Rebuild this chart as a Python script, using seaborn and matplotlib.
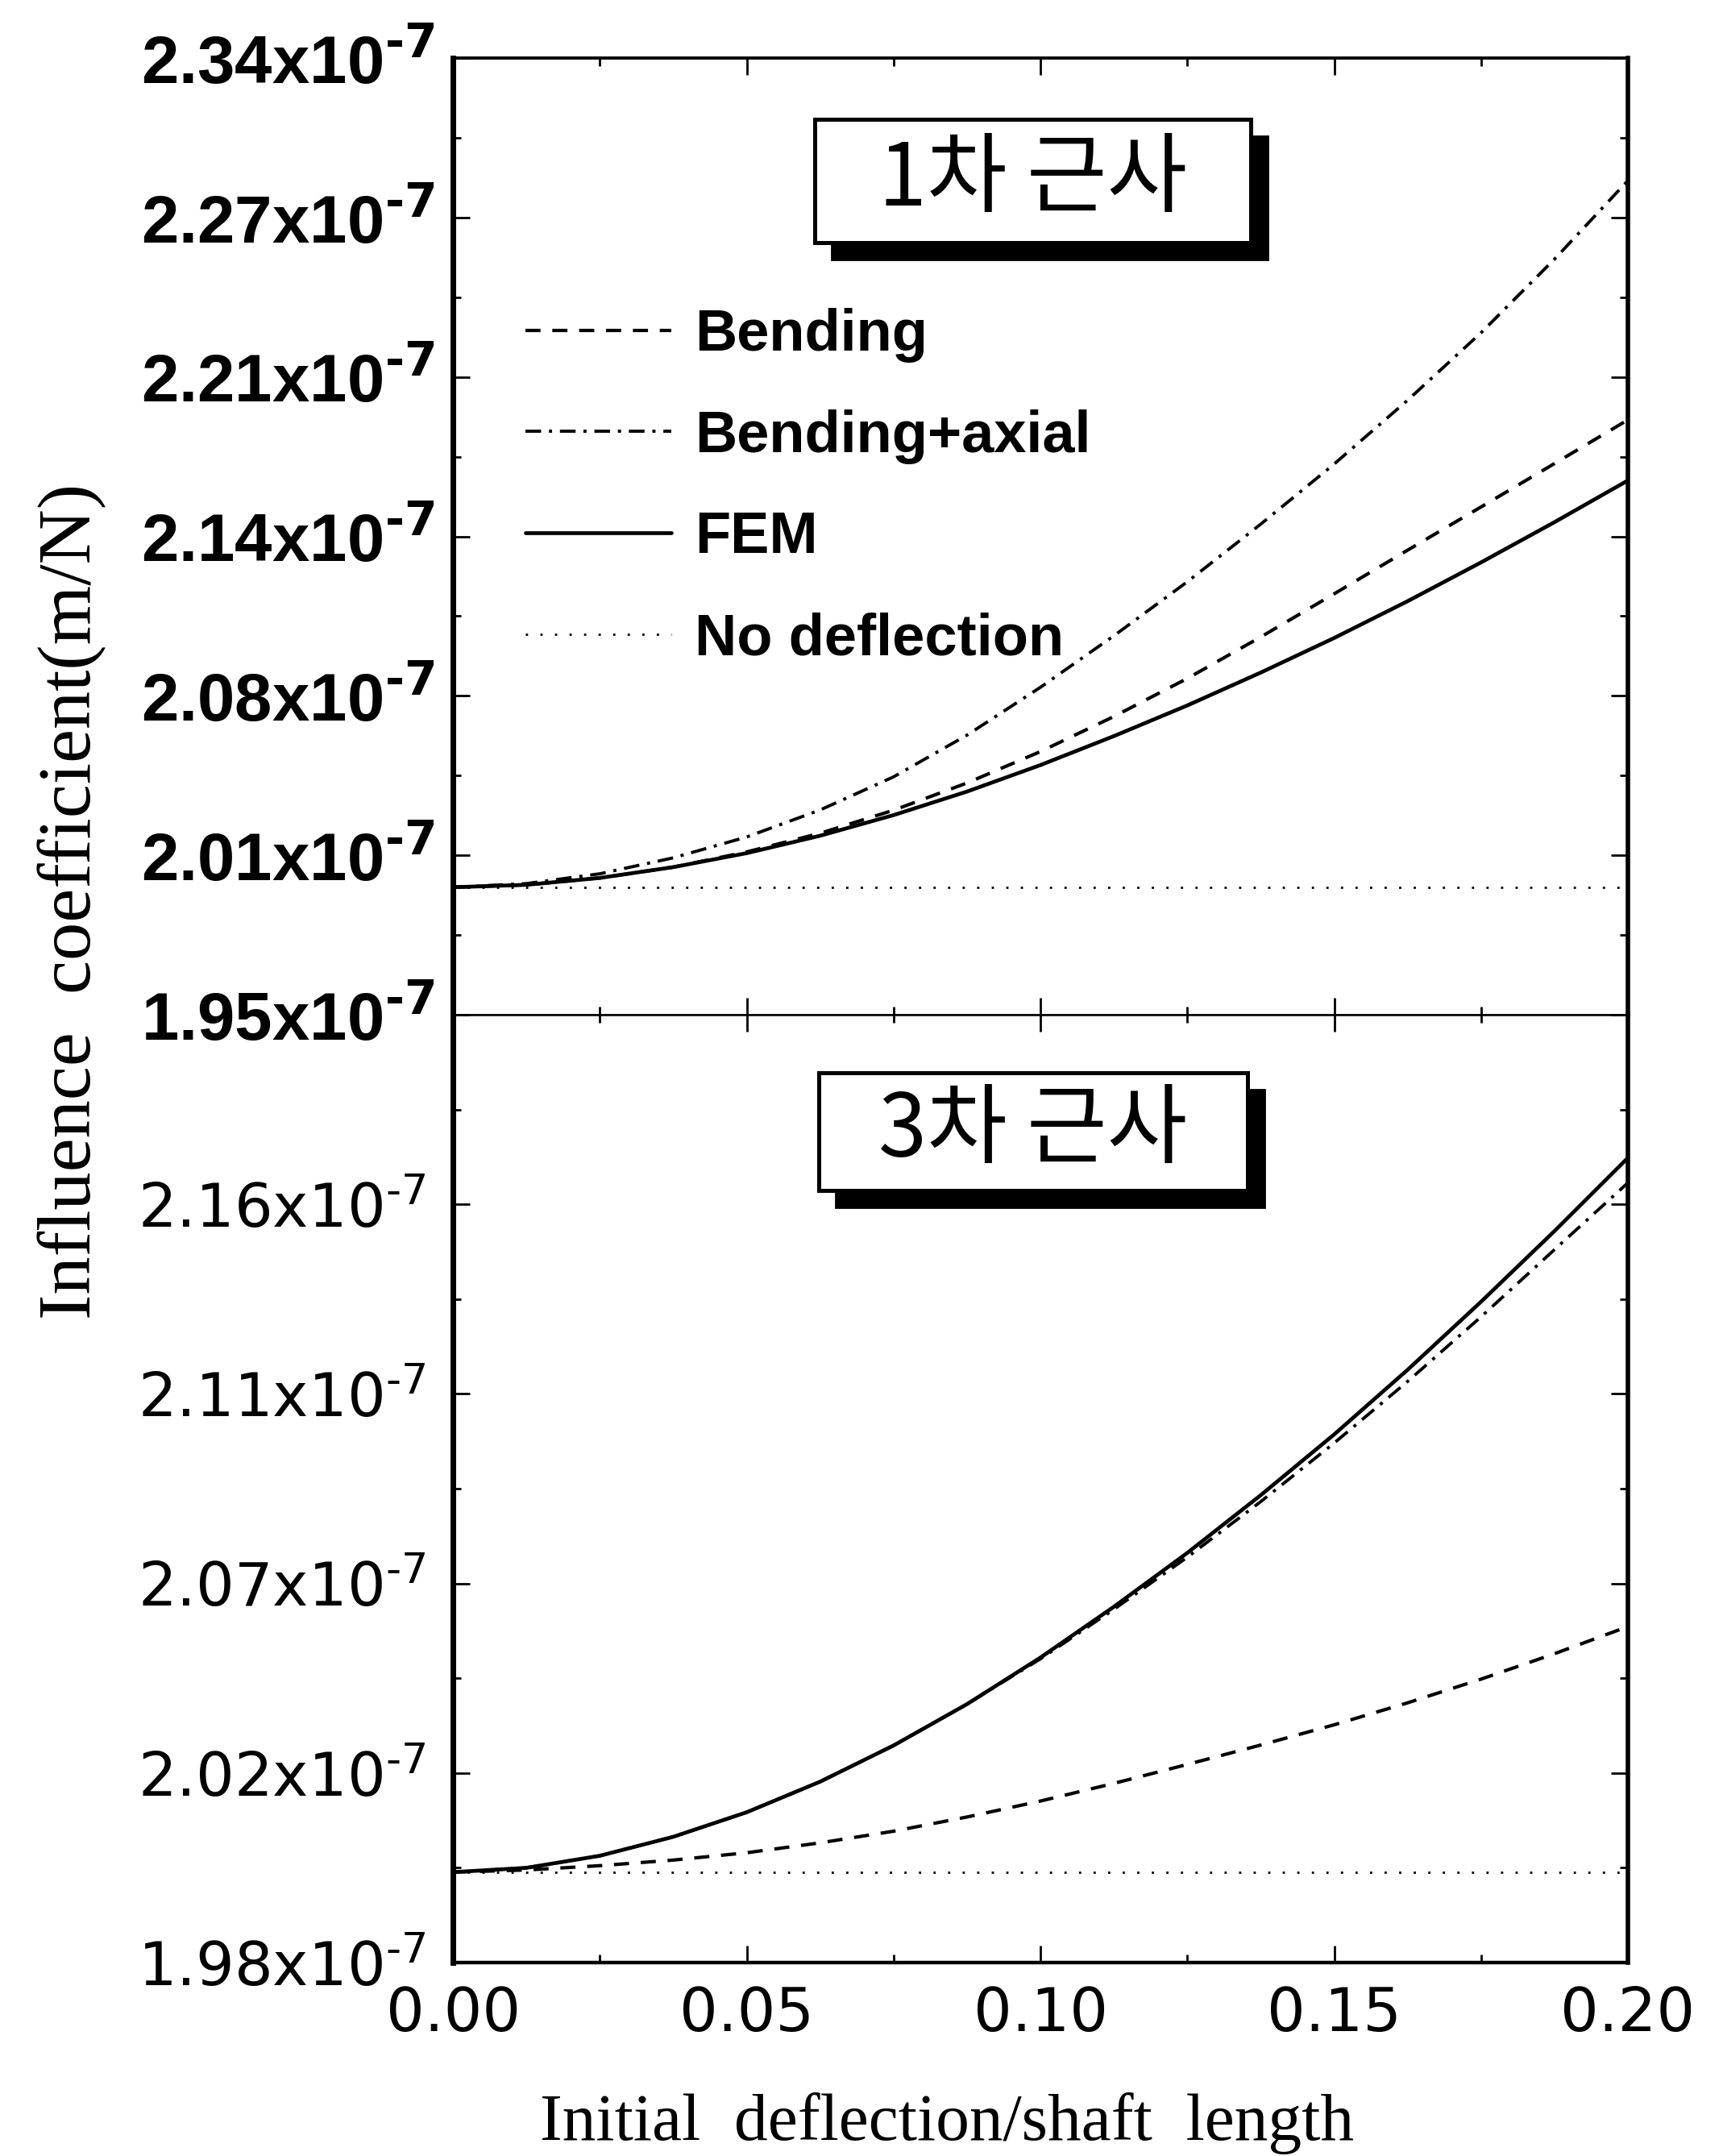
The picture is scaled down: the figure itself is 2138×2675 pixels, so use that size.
import numpy as np
import pandas as pd
import matplotlib
matplotlib.use("Agg")
import matplotlib.pyplot as plt
import matplotlib.transforms as mtransforms
from matplotlib.patches import Rectangle
import seaborn as sns

# ---------------- data (values in units of 1e-7 m/N) ----------------
ratio = [0.0, 0.0125, 0.025, 0.0375, 0.05, 0.0625, 0.075, 0.0875, 0.1,
         0.1125, 0.125, 0.1375, 0.15, 0.1625, 0.175, 0.1875, 0.2]

top_bend = [2.002, 2.003, 2.0058, 2.0102, 2.0164, 2.0240, 2.0334, 2.0445, 2.0573,
            2.0716, 2.0871, 2.1040, 2.1216, 2.1394, 2.1570, 2.1747, 2.1925]
top_bax = [2.002, 2.0035, 2.0075, 2.0140, 2.0225, 2.0335, 2.0470, 2.0640, 2.0835,
           2.1045, 2.1265, 2.1500, 2.1745, 2.2005, 2.2280, 2.2580, 2.2900]
top_fem = [2.002, 2.003, 2.0058, 2.0102, 2.0159, 2.0230, 2.0314, 2.0410, 2.0518,
           2.0636, 2.0761, 2.0895, 2.1036, 2.1186, 2.1344, 2.1508, 2.1678]
top_nodef = [2.002, 2.002, 2.002, 2.002, 2.002, 2.002, 2.002, 2.002, 2.002,
             2.002, 2.002, 2.002, 2.002, 2.002, 2.002, 2.002, 2.002]

bot_bend = [2.001, 2.0015, 2.0025, 2.0038, 2.0055, 2.0078, 2.0105, 2.0138, 2.0175,
            2.0216, 2.0260, 2.0305, 2.0352, 2.0403, 2.0458, 2.0517, 2.0580]
bot_bax = [2.001, 2.002, 2.0048, 2.0092, 2.0149, 2.0220, 2.0304, 2.0400, 2.0505,
           2.0620, 2.0741, 2.0870, 2.1006, 2.1149, 2.1299, 2.1455, 2.1610]
bot_fem = [2.001, 2.002, 2.0048, 2.0092, 2.0149, 2.0220, 2.0304, 2.0400, 2.0508,
           2.0626, 2.0751, 2.0885, 2.1026, 2.1176, 2.1334, 2.1498, 2.1668]
bot_nodef = [2.001, 2.001, 2.001, 2.001, 2.001, 2.001, 2.001, 2.001, 2.001,
             2.001, 2.001, 2.001, 2.001, 2.001, 2.001, 2.001, 2.001]

series_names = ["Bending", "Bending+axial", "FEM", "No deflection"]

top_yticks = [1.95, 2.015, 2.08, 2.145, 2.21, 2.275, 2.34]
top_yticklabels = ["1.95", "2.01", "2.08", "2.14", "2.21", "2.27", "2.34"]
bot_yticks = [1.98, 2.024, 2.068, 2.112, 2.156, 2.20]
bot_yticklabels = ["1.98", "2.02", "2.07", "2.11", "2.16", ""]
xticks = [0.0, 0.05, 0.10, 0.15, 0.20]
xticklabels = ["0.00", "0.05", "0.10", "0.15", "0.20"]

panel_titles = ["1차 근사", "3차 근사"]
xlabel = "Initial  deflection/shaft  length"
ylabel = "Influence  coefficient(m/N)"

# ---------------- style ----------------
sns.set_theme(style="ticks")
plt.rcParams["font.family"] = ["Liberation Sans", "DejaVu Sans"]
plt.rcParams["mathtext.fontset"] = "dejavusans"
plt.rcParams["axes.edgecolor"] = "black"
plt.rcParams["xtick.color"] = "black"
plt.rcParams["ytick.color"] = "black"
plt.rcParams["text.color"] = "black"

styles = {
    "Bending": dict(linestyle=(0, (4.5, 3.5)), lw=1.5),
    "Bending+axial": dict(linestyle=(0, (5, 2.5, 1, 2.5)), lw=1.4),
    "FEM": dict(linestyle="-", lw=1.7),
    "No deflection": dict(linestyle=(0, (1, 5.5)), lw=1.0),
}

fig = plt.figure(figsize=(2138 / 200, 2675 / 200), dpi=200)
ax1 = fig.add_axes([0.2629, 0.5293, 0.6819, 0.4438])
ax2 = fig.add_axes([0.2629, 0.0897, 0.6819, 0.4396])


def draw_panel(ax, data_lists, with_labels):
    for name, vals in zip(series_names, data_lists):
        df = pd.DataFrame({"ratio": ratio, "value": np.array(vals) * 1e-7})
        kw = dict(styles[name])
        if with_labels:
            kw["label"] = name
        sns.lineplot(data=df, x="ratio", y="value", ax=ax, color="black",
                     errorbar=None, **kw)
    ax.set_xlabel("")
    ax.set_ylabel("")


draw_panel(ax1, [top_bend, top_bax, top_fem, top_nodef], True)
draw_panel(ax2, [bot_bend, bot_bax, bot_fem, bot_nodef], False)

for ax in (ax1, ax2):
    ax.set_xlim(0, 0.2)
    ax.set_xticks(xticks)
    xt = np.array(xticks)
    ax.set_xticks((xt[:-1] + xt[1:]) / 2, minor=True)
    ax.tick_params(which="both", direction="in", top=True, right=True)
    ax.tick_params(which="major", length=7.5, width=1.0)
    ax.tick_params(which="minor", length=3.5, width=1.0)
    ax.grid(False)

# superscript with a short hyphen (U+2010) as in the original labels
SUP_BOLD = "$^{\\mathbf{\u20107}}$"
SUP_REG = "$^{\u20107}$"

# top panel axis
ax1.set_ylim(1.95e-7, 2.34e-7)
yt = np.array(top_yticks) * 1e-7
ax1.set_yticks(yt, labels=[f"{s}x10" + SUP_BOLD for s in top_yticklabels])
ax1.set_yticks((yt[:-1] + yt[1:]) / 2, minor=True)
ax1.tick_params(axis="x", labelbottom=False)
ax1.tick_params(axis="y", pad=8)
for lab in ax1.get_yticklabels():
    lab.set_fontsize(30)
    lab.set_fontweight("bold")
    lab.set_family(["Liberation Sans", "DejaVu Sans"])

# bottom panel axis
ax2.set_ylim(1.98e-7, 2.20e-7)
yt2 = np.array(bot_yticks) * 1e-7
ax2.set_yticks(yt2, labels=[(f"{s}x10" + SUP_REG if s else "") for s in bot_yticklabels])
ax2.set_yticks((yt2[:-1] + yt2[1:]) / 2, minor=True)
ax2.set_xticks(xticks, labels=xticklabels)
ax2.tick_params(axis="y", pad=12)
ax2.tick_params(axis="x", pad=10)
for lab in ax2.get_yticklabels():
    lab.set_fontsize(27)
    lab.set_family(["DejaVu Sans"])
for lab in ax2.get_xticklabels():
    lab.set_fontsize(27)
    lab.set_family(["DejaVu Sans"])

# spines
for ax, top_w, bot_w in ((ax1, 1.4, 0.9), (ax2, 0.9, 1.6)):
    ax.spines["left"].set_linewidth(2.5)
    ax.spines["right"].set_linewidth(2.0)
    ax.spines["top"].set_linewidth(top_w)
    ax.spines["bottom"].set_linewidth(bot_w)
    for sp in ax.spines.values():
        sp.set_color("black")

# legend
ax1.legend(loc="upper left", bbox_to_anchor=(0.062, 0.739), frameon=False,
           borderpad=0, borderaxespad=0, handlelength=2.5, handletextpad=0.4,
           labelspacing=0.80,
           prop=dict(family="Liberation Sans", weight="bold", size=26))


# title boxes with drop shadow
def boxed_title(ax, x0, y0, x1, y1, text):
    shadow_tr = mtransforms.offset_copy(ax.transAxes, fig=fig, x=7.5, y=-7.5, units="points")
    ax.add_patch(Rectangle((x0, y0), x1 - x0, y1 - y0, transform=shadow_tr,
                           facecolor="black", edgecolor="black", lw=1.0, zorder=5))
    ax.add_patch(Rectangle((x0, y0), x1 - x0, y1 - y0, transform=ax.transAxes,
                           facecolor="white", edgecolor="black", lw=1.8, zorder=6))
    ax.text((x0 + x1) / 2, (y0 + y1) / 2, text, transform=ax.transAxes,
            ha="center", va="center", fontsize=39, zorder=7,
            family=["Noto Sans CJK KR", "DejaVu Sans"])


boxed_title(ax1, 0.308, 0.807, 0.679, 0.936, panel_titles[0])
boxed_title(ax2, 0.3114, 0.8146, 0.6763, 0.9388, panel_titles[1])

# axis titles
fig.text(0.5496, 0.0150, xlabel, ha="center", va="center", fontsize=30,
         family=["Liberation Serif", "DejaVu Serif"])
fig.text(0.0416, 0.582, ylabel, ha="center", va="center", rotation=90,
         fontsize=34, family=["Liberation Serif", "DejaVu Serif"])

fig.savefig("out.png", dpi=200, facecolor="white")
